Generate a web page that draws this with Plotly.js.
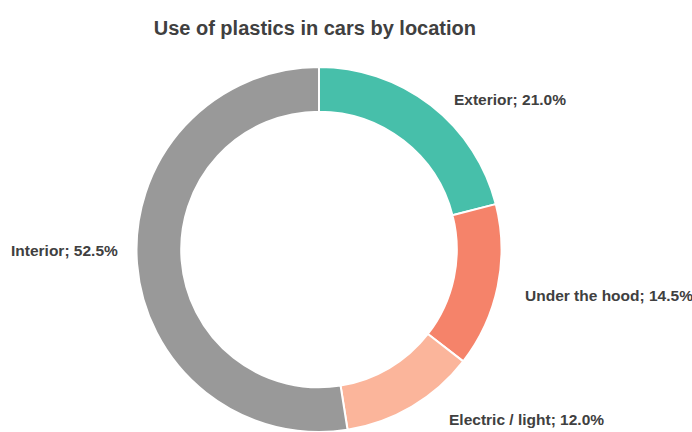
<!DOCTYPE html>
<html>
<head>
<meta charset="utf-8">
<script src="https://cdn.plot.ly/plotly-3.0.1.min.js"></script>
<style>html,body{margin:0;padding:0;background:#fff;}#chart{width:692px;height:432px;}</style>
</head>
<body>
<div id="chart"></div>
<script>
// ---- data ----
const categories = ["Exterior", "Under the hood", "Electric / light", "Interior"];
const shares = [21.0, 14.5, 12.0, 52.5];
const colors = ["#47BFAA", "#F5836A", "#FBB59B", "#999999"];

// ---- label styling (pixel nudges, like hand-placed labels in the original) ----
const labelNudgeX = [10, 8, 26, 0];
const labelNudgeY = [-8, -5, 2, 15];

const FONT = "'Liberation Sans Narrow', 'Arial Narrow', 'Liberation Sans', Arial, sans-serif";
const W = 692, H = 432;
const margin = {l: 0, r: 54, t: 67, b: 0};
const plotW = W - margin.l - margin.r, plotH = H - margin.t - margin.b;
const labelR = 200; // px from centre

const total = shares.reduce((a, b) => a + b, 0);
let cum = 0;
const annotations = categories.map((c, i) => {
  const mid = (cum + shares[i] / 2) / total * 2 * Math.PI;
  cum += shares[i];
  const dx = labelR * Math.sin(mid), dy = labelR * Math.cos(mid);
  return {
    xref: "paper", yref: "paper",
    x: 0.5 + dx / plotW, y: 0.5 + dy / plotH,
    xanchor: dx >= 0 ? "left" : "right", yanchor: "middle",
    xshift: labelNudgeX[i], yshift: labelNudgeY[i],
    showarrow: false,
    text: "<b>" + c + "; " + shares[i].toFixed(1) + "%</b>",
    font: {family: FONT, size: 15.5, color: "#404040"}
  };
});

Plotly.newPlot("chart", [{
  type: "pie",
  labels: categories,
  values: shares,
  textinfo: "none",
  hole: 0.755,
  sort: false,
  direction: "clockwise",
  rotation: 0,
  marker: {colors: colors, line: {color: "#ffffff", width: 2}},
  showlegend: false,
  hoverinfo: "label+percent"
}], {
  width: W,
  height: H,
  margin: margin,
  paper_bgcolor: "#ffffff",
  annotations: annotations,
  title: {
    text: "<b>Use of plastics in cars by location</b>",
    font: {family: FONT, size: 20, color: "#404040"},
    x: 0.455, xanchor: "center", y: 0.935, yanchor: "middle"
  }
}, {displayModeBar: false, staticPlot: true});
</script>
</body>
</html>
